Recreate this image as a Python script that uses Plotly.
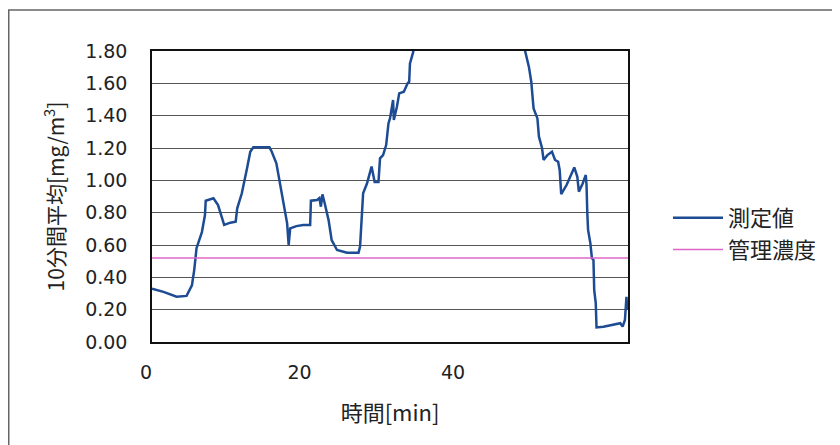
import plotly.graph_objects as go

time_min = [0.0, 1.5, 3.2, 4.5, 5.2, 5.5, 5.8, 6.5, 6.9, 7.0, 8.0, 8.6, 9.4, 10.2, 10.9, 11.1,
            11.7, 12.1, 12.4, 12.8, 13.2, 15.3, 15.6, 16.2, 16.6, 16.9, 17.3, 17.6, 17.8, 18.0,
            18.8, 19.7, 20.6, 20.7, 21.5, 21.8, 22.0, 22.2, 22.5, 23.0, 23.4, 24.1, 25.4, 26.9,
            27.1, 27.3, 27.5, 28.0, 28.6, 29.0, 29.5, 29.7, 30.1, 30.5, 30.8, 31.0, 31.4, 31.5,
            31.9, 32.2, 32.8, 33.3, 33.5, 33.6, 34.0, 34.5, 37.0, 41.0, 45.0, 48.0, 48.6, 49.1,
            49.4, 49.7, 50.2, 50.4, 50.8, 51.0, 51.5, 52.1, 52.5, 52.9, 53.1, 53.3, 54.0, 55.0,
            55.4, 55.6, 56.1, 56.5, 56.6, 56.7, 56.8, 57.1, 57.3, 57.5, 57.6, 57.8, 57.9, 58.8,
            60.1, 61.0, 61.3, 61.6, 61.8, 61.9]
measured = [0.33, 0.31, 0.28, 0.285, 0.35, 0.445, 0.58, 0.68, 0.785, 0.874, 0.889, 0.847, 0.724,
            0.738, 0.744, 0.827, 0.92, 1.0, 1.08, 1.177, 1.205, 1.205, 1.177, 1.105, 1.0, 0.9,
            0.796, 0.734, 0.6, 0.703, 0.717, 0.724, 0.724, 0.874, 0.878, 0.89, 0.837, 0.913, 0.857,
            0.754, 0.63, 0.569, 0.552, 0.552, 0.59, 0.775, 0.92, 0.98, 1.085, 0.99, 0.99, 1.136,
            1.156, 1.218, 1.352, 1.383, 1.497, 1.373, 1.455, 1.538, 1.548, 1.6, 1.61, 1.723, 1.79,
            1.95, 2.3, 2.5, 2.3, 1.95, 1.8, 1.70, 1.61, 1.445, 1.383, 1.27, 1.2, 1.126, 1.156,
            1.177, 1.126, 1.115, 1.064, 0.915, 0.971, 1.08, 1.022, 0.93, 0.981, 1.033, 0.971,
            0.796, 0.693, 0.61, 0.518, 0.507, 0.32, 0.24, 0.09, 0.095, 0.105, 0.116, 0.095, 0.136,
            0.28, 0.2]
control_time = [0.0, 62.0]
control_conc = [0.52, 0.52]

x_ticks = [0, 20, 40]
y_ticks = [0.0, 0.2, 0.4, 0.6, 0.8, 1.0, 1.2, 1.4, 1.6, 1.8]
y_labels = ["0.00", "0.20", "0.40", "0.60", "0.80", "1.00", "1.20", "1.40", "1.60", "1.80"]

NUM_FONT = "DejaVu Sans, Noto Sans CJK JP"
JP_FONT = "Noto Sans CJK JP"

fig = go.Figure()
fig.add_trace(go.Scatter(x=time_min, y=measured, mode="lines", name="測定値",
                         line=dict(color="#1d4b94", width=2.5), legendgroup="a"))
fig.add_trace(go.Scatter(x=control_time, y=control_conc, mode="lines", name="管理濃度",
                         line=dict(color="#e066c8", width=1.5), legendgroup="b"))

# page body has an 8px offset, so figure coords = screen coords - 8
L, R, T, B = 144, 620, 43, 334
W, H = 840, 445
pw, ph = R - L, B - T

fig.update_layout(
    width=W, height=H,
    margin=dict(l=L, r=W - R, t=T, b=H - B),
    paper_bgcolor="white", plot_bgcolor="white",
    font=dict(family=NUM_FONT, size=19, color="#222222"),
    showlegend=True,
    legend=dict(x=(660 - L) / pw, y=(B - 189) / ph, xanchor="left", yanchor="top",
                font=dict(family=JP_FONT, size=22, color="#222222"),
                itemwidth=50,
                traceorder="grouped", tracegroupgap=0, bgcolor="rgba(0,0,0,0)"),
    xaxis=dict(range=[0, 62], tickvals=x_ticks, ticktext=[str(v) for v in x_ticks],
               showgrid=False, zeroline=False, showline=True, mirror=True,
               linecolor="#111111", linewidth=1.5, ticks="", ticklabelstandoff=12,
               ticklabelshift=-6, automargin=False,
               title=dict(text="時間[min]", font=dict(family=JP_FONT, size=22),
                          standoff=24)),
    yaxis=dict(range=[0, 1.8], tickvals=y_ticks, ticktext=y_labels,
               showgrid=True, gridcolor="#555555", gridwidth=1, zeroline=False,
               showline=True, mirror=True, linecolor="#111111", linewidth=1.5, ticks="",
               ticklabelstandoff=19, automargin=False,
               title=dict(text="10分間平均[mg/m<sup>3</sup>]",
                          font=dict(family=JP_FONT, size=21), standoff=15)),
)

# outer chart frame
fig.add_shape(type="rect", xref="paper", yref="paper",
              x0=(0.75 - L) / pw, x1=(860 - L) / pw, y0=(B - 470) / ph, y1=(B - 2) / ph,
              line=dict(color="#666666", width=1.5), fillcolor="rgba(0,0,0,0)", layer="below")

fig.write_html("out.html")
